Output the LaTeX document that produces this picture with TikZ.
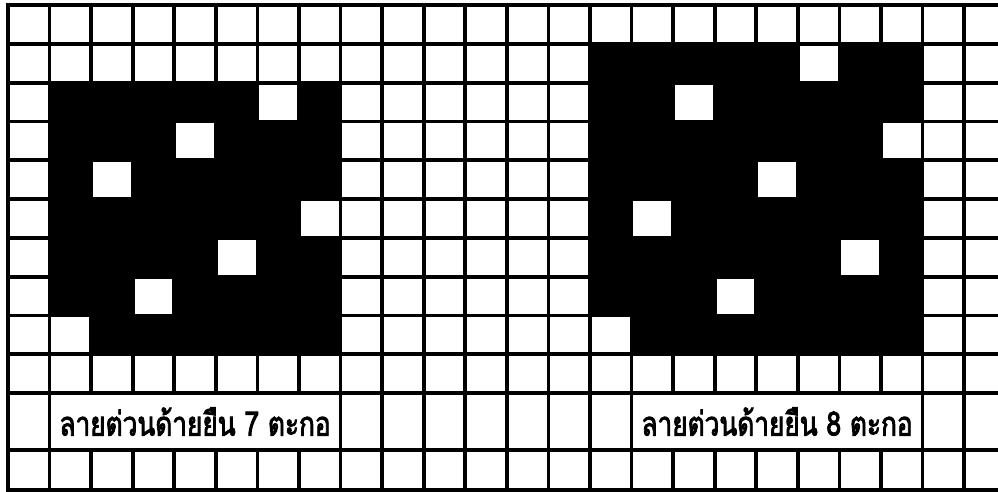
\documentclass[tikz,border=0pt]{standalone}
\usepackage{fontspec}
\newfontfamily\thaifont[Script=Thai,AutoFakeBold=2.5,FakeStretch=0.78]{Loma}
\usetikzlibrary{positioning}

\tikzset{
  gridline/.style={line width=2.6pt,line cap=rect},
  weave/.style={fill=black},
  gap/.style={fill=white},
  caption/.style={draw,fill=white,line width=2.6pt,inner sep=0pt,
    minimum width=7cm,minimum height=1.372cm,
    font=\thaifont\bfseries\fontsize{23}{26}\selectfont}
}

\begin{document}
\begin{tikzpicture}[x=1cm,y=-0.9334cm]
  \useasboundingbox[fill=white] (-0.192,-0.129) rectangle (23.815,12.55);
  % dark blocks
  \fill[weave] (1,2) rectangle (8,9);
  \fill[weave] (14,1) rectangle (22,9);
  % raised cells, 7 shafts
  \foreach \c [count=\r from 2] in {6,4,2,7,5,3,1}
    \fill[gap] (\c,\r) rectangle ++(1,1);
  % raised cells, 8 shafts
  \foreach \c [count=\r from 1] in {19,16,21,18,15,20,17,14}
    \fill[gap] (\c,\r) rectangle ++(1,1);
  % grid
  \foreach \i in {0,...,23}
    \draw[gridline] (\i,0) -- (\i,12.5);
  \foreach \j in {0,1,2,3,4,5,6,7,8,9,10,11.47,12.5}
    \draw[gridline] (0,\j) -- (23.815,\j);
  % labels
  \node[caption] (warp7) at (4.5,10.735) {ลายต่วนด้ายยืน 7 ตะกอ};
  \node[caption] (warp8) at (18.5,10.735) {ลายต่วนด้ายยืน 8 ตะกอ};
\end{tikzpicture}
\end{document}
